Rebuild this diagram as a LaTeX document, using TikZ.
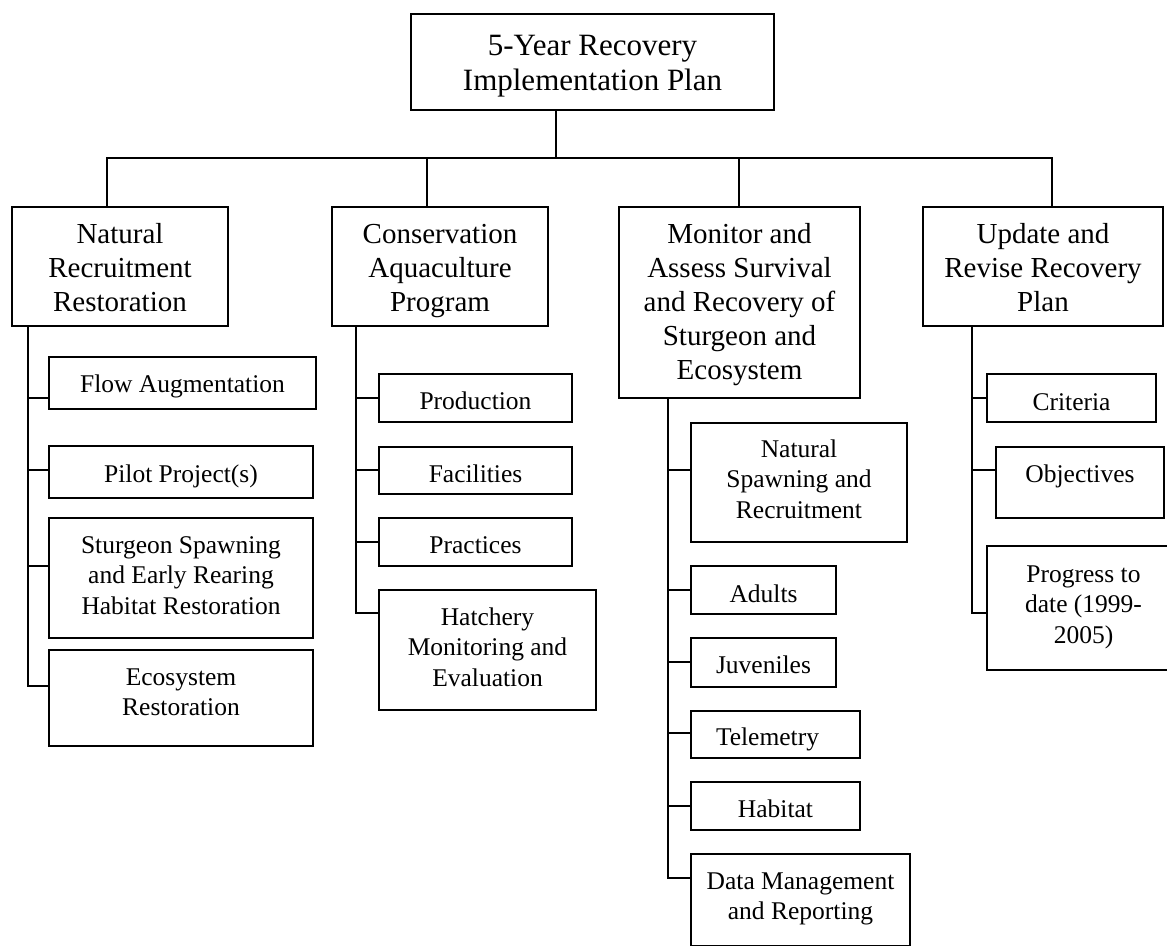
\documentclass[tikz,border=0pt]{standalone}
\usepackage{fontspec}
\setmainfont{Liberation Serif}
% top strut (baseline offset from box top) and bottom strut (remaining depth)
\newcommand\tS[1]{\rule{0pt}{#1pt}}
\newcommand\bS[1]{\rule[-#1pt]{0pt}{#1pt}}
\tikzset{
  box/.style={draw, line width=1.6pt, inner sep=0pt, outer sep=0pt, align=center,
    font=\fontsize{25.5}{30.5}\selectfont},
  lvl/.style={box, font=\fontsize{29}{34}\selectfont},
  ttl/.style={box, font=\fontsize{31}{35}\selectfont},
  conn/.style={line width=1.6pt, line cap=rect}
}
\begin{document}
\begin{tikzpicture}[x=1pt, y=-1pt]
\clip (0,0) rectangle (1167,945);
\fill[white] (0,0) rectangle (1167,945);
% top
\node[ttl, minimum width=363, minimum height=96] (T) at (592.5,62) {\tS{41}5-Year Recovery\\Implementation Plan\bS{19.8}};
% level 1
\node[lvl, minimum width=216, minimum height=119] (nat) at (120,266.5) {\tS{36}Natural\\Recruitment\\Restoration\bS{14.8}};
\node[lvl, minimum width=216, minimum height=119] (con) at (440,266.5) {\tS{36}Conservation\\Aquaculture\\Program\bS{14.8}};
\node[lvl, minimum width=241, minimum height=191] (mon) at (739.5,302.5) {\tS{36}Monitor and\\Assess Survival\\and Recovery of\\Sturgeon and\\Ecosystem\bS{18.8}};
\node[lvl, minimum width=240, minimum height=119] (upd) at (1043,266.5) {\tS{36}Update and\\Revise Recovery\\Plan\bS{14.8}};
% natural children
\node[box, minimum width=267, minimum height=52] (flow) at (182.5,383) {\tS{35}Flow Augmentation\bS{16.8}};
\node[box, minimum width=264, minimum height=52] (pilot) at (181,472) {\tS{36}Pilot Project(s)\bS{15.8}};
\node[box, minimum width=264, minimum height=120] (sturg) at (181,578) {\tS{35}Sturgeon Spawning\\and Early Rearing\\Habitat Restoration\bS{23.8}};
\node[box, minimum width=264, minimum height=96] (eco) at (181,698) {\tS{35}Ecosystem\\Restoration\bS{30.3}};
% conservation children
\node[box, minimum width=193, minimum height=48] (prod) at (475.5,398) {\tS{35}Production\bS{12.8}};
\node[box, minimum width=193, minimum height=47] (fac) at (475.5,470.5) {\tS{35}Facilities\bS{11.8}};
\node[box, minimum width=193, minimum height=48] (prac) at (475.5,542) {\tS{35}Practices\bS{12.8}};
\node[box, minimum width=217, minimum height=120] (hatch) at (487.5,650) {\tS{35}Hatchery\\Monitoring and\\Evaluation\bS{23.8}};
% monitor children
\node[box, minimum width=216, minimum height=119] (nsr) at (799,482.5) {\tS{34}Natural\\Spawning and\\Recruitment\bS{23.8}};
\node[box, minimum width=145, minimum height=48] (adu) at (763.5,590) {\tS{36}Adults\bS{11.8}};
\node[box, minimum width=145, minimum height=49] (juv) at (763.5,662.5) {\tS{35}Juveniles\bS{13.8}};
\node[box, minimum width=169, minimum height=47] (tel) at (775.5,734.5) {\tS{34}\hspace{-16pt}Telemetry\bS{12.8}};
\node[box, minimum width=169, minimum height=48] (hab) at (775.5,806) {\tS{35}Habitat\bS{12.8}};
\node[box, minimum width=219, minimum height=92] (dat) at (800.5,900) {\tS{35}Data Management\\and Reporting\bS{26.3}};
% update children
\node[box, minimum width=169, minimum height=48] (crit) at (1071.5,398) {\tS{36}Criteria\bS{11.8}};
\node[box, minimum width=168, minimum height=71] (obj) at (1080,482.5) {\tS{35}Objectives\bS{35.8}};
\node[box, minimum width=193, minimum height=124] (prog) at (1083.5,608) {\tS{36}Progress to\\date (1999-\\2005)\bS{26.8}};

% top connectors
\coordinate (td) at (556,110);
\coordinate (b1) at (107,158);
\coordinate (b2) at (427,158);
\coordinate (b3) at (739,158);
\coordinate (b4) at (1052,158);
\draw[conn] (td) -- (td |- b1);
\draw[conn] (b1) -- (b4);
\draw[conn] (b1) -- (b1 |- nat.north);
\draw[conn] (b2) -- (b2 |- con.north);
\draw[conn] (b3) -- (b3 |- mon.north);
\draw[conn] (b4) -- (b4 |- upd.north);

% natural bus
\coordinate (nv) at (28,326);
\coordinate (flowin) at (49,398);
\coordinate (pilotin) at (49,470);
\coordinate (sturgin) at (49,566);
\coordinate (ecoin) at (49,686);
\draw[conn] (nv) -- (nv |- ecoin);
\foreach \c in {flowin,pilotin,sturgin,ecoin} \draw[conn] (nv |- \c) -- (\c);

% conservation bus
\coordinate (cv) at (356,326);
\coordinate (prodin) at (379,398);
\coordinate (facin) at (379,470);
\coordinate (pracin) at (379,542);
\coordinate (hatchin) at (379,613);
\draw[conn] (cv) -- (cv |- hatchin);
\foreach \c in {prodin,facin,pracin,hatchin} \draw[conn] (cv |- \c) -- (\c);

% monitor bus
\coordinate (mv) at (668,398);
\coordinate (nsrin) at (691,470);
\coordinate (aduin) at (691,590);
\coordinate (juvin) at (691,662);
\coordinate (telin) at (691,733);
\coordinate (habin) at (691,806);
\coordinate (datin) at (691,878);
\draw[conn] (mv) -- (mv |- datin);
\foreach \c in {nsrin,aduin,juvin,telin,habin,datin} \draw[conn] (mv |- \c) -- (\c);

% update bus
\coordinate (uv) at (972,326);
\coordinate (critin) at (987,398);
\coordinate (objin) at (996,470);
\coordinate (progin) at (987,613);
\draw[conn] (uv) -- (uv |- progin);
\foreach \c in {critin,objin,progin} \draw[conn] (uv |- \c) -- (\c);
\end{tikzpicture}
\end{document}
